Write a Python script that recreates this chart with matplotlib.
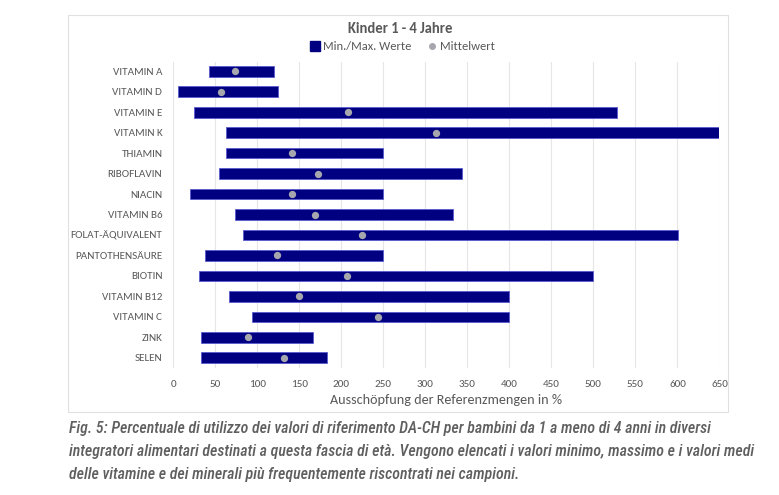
import matplotlib
matplotlib.use("Agg")
import matplotlib.pyplot as plt
from matplotlib.patches import Rectangle
from matplotlib.lines import Line2D

# values
naehrstoffe = ['VITAMIN A', 'VITAMIN D', 'VITAMIN E', 'VITAMIN K', 'THIAMIN', 'RIBOFLAVIN',
               'NIACIN', 'VITAMIN B6', 'FOLAT-ÄQUIVALENT', 'PANTOTHENSÄURE', 'BIOTIN',
               'VITAMIN B12', 'VITAMIN C', 'ZINK', 'SELEN']
min_werte = [42, 5, 25, 63, 63, 54, 20, 73, 83, 38, 30, 66, 94, 33, 33]
max_werte = [120, 124, 528, 650, 250, 343, 250, 333, 601, 250, 500, 400, 400, 166, 183]
mittelwerte = [73, 57, 208, 312, 141, 172, 141, 168, 225, 123, 207, 149, 244, 89, 132]
x_ticks = list(range(0, 651, 50))

grau = '#595959'
navy = '#000080'
punkt = '#a6a6ae'

plt.rcParams['font.family'] = ['Carlito', 'DejaVu Sans']

fig = plt.figure(figsize=(7.79, 4.95), dpi=100)
ax = fig.add_axes([0.2227, 0.2566, 0.7009, 0.618])

pos = list(range(len(naehrstoffe)))
breiten = [mx - mn for mn, mx in zip(min_werte, max_werte)]
ax.barh(pos, breiten, left=min_werte, height=0.52, color=navy,
        edgecolor='#5a5ad0', linewidth=0.6, zorder=3)
ax.scatter(mittelwerte, pos, s=18, color=punkt, zorder=4)

ax.set_ylim(14.5, -0.45)
ax.set_xlim(0, 650)
ax.set_yticks(pos)
ax.set_yticklabels(naehrstoffe)
ax.set_xticks(x_ticks)
ax.tick_params(axis='both', length=0, labelsize=8, colors=grau)
ax.tick_params(axis='y', pad=8)
ax.tick_params(axis='x', pad=9)
ax.grid(axis='x', color='#e6e6e6', linewidth=0.8, zorder=0)
for s in ax.spines.values():
    s.set_visible(False)
ax.set_xlabel('Ausschöpfung der Referenzmengen in %', fontsize=10.2, color=grau, labelpad=3)

# chart frame
fig.patches.append(Rectangle((68 / 779, 1 - 412 / 495), 660 / 779, 397 / 495,
                             transform=fig.transFigure, fill=False,
                             edgecolor='#e0e0e0', linewidth=0.8))

fig.text(0.514, 1 - 29 / 495, 'Kinder 1 - 4 Jahre', ha='center', va='center',
         fontsize=10.5, fontweight='bold', color=grau)

handles = [Line2D([], [], marker='s', linestyle='none', color=navy, markersize=7),
           Line2D([], [], marker='o', linestyle='none', color=punkt, markersize=4)]
fig.legend(handles, ['Min./Max. Werte', 'Mittelwert'], loc='center',
           bbox_to_anchor=(0.516, 1 - 47 / 495), ncol=2, frameon=False,
           fontsize=9, labelcolor=grau, handletextpad=0.1, columnspacing=1.2,
           handlelength=1.0)

caption = ['Fig. 5: Percentuale di utilizzo dei valori di riferimento DA-CH per bambini da 1 a meno di 4 anni in diversi',
           'integratori alimentari destinati a questa fascia di età. Vengono elencati i valori minimo, massimo e i valori medi',
           'delle vitamine e dei minerali più frequentemente riscontrati nei campioni.']
for i, zeile in enumerate(caption):
    fig.text(69 / 779, 1 - (429 + 22.5 * i) / 495, zeile, ha='left', va='center',
             family='Roboto Condensed', fontsize=11.4, fontstyle='italic', fontweight=500,
             color='#5f5f5f')

fig.savefig('out.png', dpi=100)
